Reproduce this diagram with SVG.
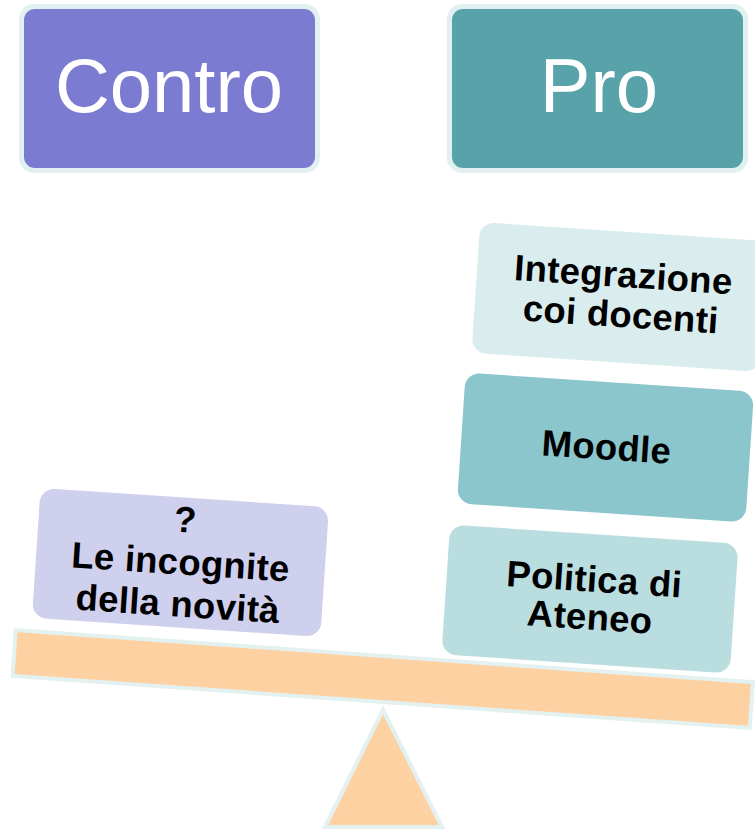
<svg xmlns="http://www.w3.org/2000/svg" width="755" height="830" viewBox="0 0 755 830">
<style>
.hdr-glow{fill:#E2F0F2}
.hdr-txt{font-family:"Liberation Sans",Arial,sans-serif;font-size:76px;fill:#FFFFFF;text-anchor:middle}
.box{stroke:#FFFFFF;stroke-width:3}
.lbl{font-family:"Liberation Sans",Arial,sans-serif;font-size:36.5px;font-weight:bold;fill:#000000;text-anchor:middle;letter-spacing:0.3px}
.wood{fill:#FED1A2;stroke:#E4F1F1;stroke-width:4}
</style>
<rect width="755" height="830" fill="#FFFFFF"/>
<g id="contro">
<rect class="hdr-glow" x="19" y="4" width="301" height="169" rx="15"/>
<rect x="24" y="9" width="291" height="159" rx="11" fill="#7A7BD1"/>
<text class="hdr-txt" x="169" y="112">Contro</text>
</g>
<g id="pro">
<rect class="hdr-glow" x="447" y="4" width="301" height="169" rx="15"/>
<rect x="452" y="9" width="291" height="159" rx="11" fill="#57A3A9"/>
<text class="hdr-txt" x="599" y="112">Pro</text>
</g>
<g id="seesaw">
<polygon class="wood" points="383,710 325,827 442,827" stroke-width="5"/>
<g transform="translate(382.75,679) rotate(4.04)">
<rect class="wood" x="-369.5" y="-23" width="739" height="46"/>
</g>
</g>
<g id="incognite" transform="translate(180.5,562) rotate(3.8)">
<rect class="box" x="-146" y="-66" width="292" height="133" rx="16" fill="#CFCFEE"/>
<text class="lbl" x="2" y="-30">?</text>
<text class="lbl" x="0" y="12.5">Le incognite</text>
<text class="lbl" x="0" y="54.5">della novità</text>
</g>
<g id="integrazione" transform="translate(620,297) rotate(3.8)">
<rect class="box" x="-146" y="-67" width="292" height="134" rx="16" fill="#DAEDEE"/>
<text class="lbl" x="2" y="-10">Integrazione</text>
<text class="lbl" x="2" y="30">coi docenti</text>
</g>
<g id="moodle" transform="translate(605.5,447.5) rotate(3.8)">
<rect class="box" x="-146" y="-67" width="292" height="134" rx="16" fill="#8BC6CD"/>
<text class="lbl" x="1" y="12">Moodle</text>
</g>
<g id="politica" transform="translate(590,598.5) rotate(3.8)">
<rect class="box" x="-146" y="-66" width="292" height="133" rx="16" fill="#BADDE0"/>
<text class="lbl" x="3" y="-7">Politica di</text>
<text class="lbl" x="1" y="31">Ateneo</text>
</g>
</svg>
